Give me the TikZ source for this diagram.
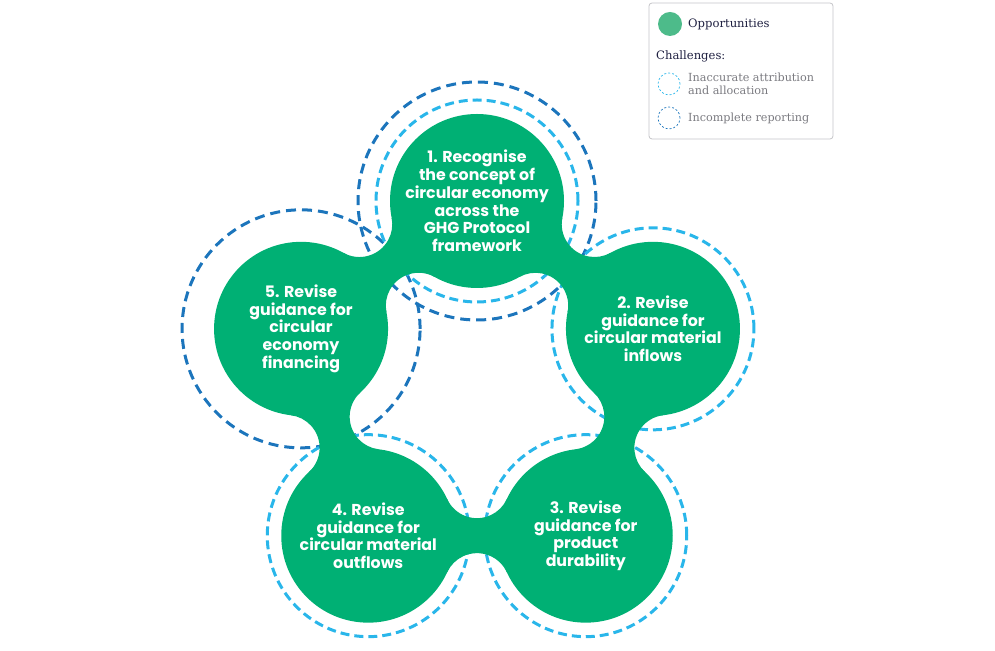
\documentclass[tikz,border=0pt]{standalone}
\usepackage{fontspec}
\newfontfamily\boxfont{Poppins}
\newfontfamily\keyfont{DejaVu Serif}
\usepackage{tikz}
\usetikzlibrary{calc}
\definecolor{oppgreen}{HTML}{00B074}
\definecolor{keygreen}{HTML}{4DBB8A}
\definecolor{attrblue}{HTML}{29B6EA}
\definecolor{repblue}{HTML}{1C75BC}
\definecolor{navy}{HTML}{1F2041}
\definecolor{keygrey}{HTML}{7A7A80}
\definecolor{keyline}{HTML}{C4C4C8}
\tikzset{opp/.style={fill=oppgreen}}
\tikzset{attr/.style={draw=attrblue, line width=3pt, dash pattern=on 9pt off 5pt}}
\tikzset{rep/.style={draw=repblue, line width=3pt, dash pattern=on 10pt off 6pt}}
\tikzset{l/.style={font=\boxfont\bfseries\fontsize{15.8}{17.8}\selectfont, text=white, align=center}}
\tikzset{k/.style={font=\keyfont\fontsize{11.2}{13}\selectfont, anchor=west, inner sep=0pt, text=keygrey, align=left}}
\tikzset{kh/.style={k, font=\keyfont\fontsize{11.6}{13}\selectfont, text=navy}}
\tikzset{m/.style={line width=0.7pt, dash pattern=on 2pt off 2pt}}

\begin{document}
\begin{tikzpicture}[x=1pt, y=1pt]
    \useasboundingbox (0,0) rectangle (995,650);
    \coordinate (O) at (477,264);
    \foreach \n/\a in {1/90, 2/18, 3/-54, 4/-126, 5/162}
      \coordinate (c\n) at ($(O)+(\a:185)$);

    % challenges, behind the green
    \draw[rep] (c1) circle[radius=119];
    \draw[rep] (c5) circle[radius=119];
    \foreach \n in {1,2,3,4}
      \draw[attr] (c\n) circle[radius=101];

    % opportunities
    \foreach \a in {0,72,144,216,288}
      \fill[opp, shift={(O)}, rotate=\a] (-108.74,-149.67) -- (-29.79,-113.13)
        arc[start angle=204.83, end angle=335.17, radius=32.82]
        -- (108.74,-149.67) -- (29.79,-186.21)
        arc[start angle=24.83, end angle=155.17, radius=32.82] -- cycle;
    \foreach \n in {1,...,5}
      \fill[opp] (c\n) circle[radius=87];

    \node[l] (t1) at (c1) {1. Recognise\\the concept of\\circular economy\\across the\\GHG Protocol\\framework};
    \node[l] (t2) at (c2) {2. Revise\\guidance for\\circular material\\inflows};
    \node[l] (t3) at (c3) {3. Revise\\guidance for\\product\\durability};
    \node[l] (t4) at (c4) {4. Revise\\guidance for\\circular material\\outflows};
    \node[l] (t5) at (c5) {5. Revise\\guidance for\\circular\\economy\\financing};

    % key
    \draw[keyline, line width=0.8pt, rounded corners=3pt] (649,511) rectangle (833,647);
    \fill[keygreen] (670,626) circle[radius=12];
    \node[kh] (opp) at (688,626) {Opportunities};
    \node[kh] (chal) at (656,594) {Challenges:};
    \draw[attr, m] (669,566) circle[radius=11];
    \node[k] (inacc) at (688,566.5) {Inaccurate attribution\\and allocation};
    \draw[rep, m] (669,532) circle[radius=11];
    \node[k] (incomp) at (688,532) {Incomplete reporting};
\end{tikzpicture}
\end{document}
